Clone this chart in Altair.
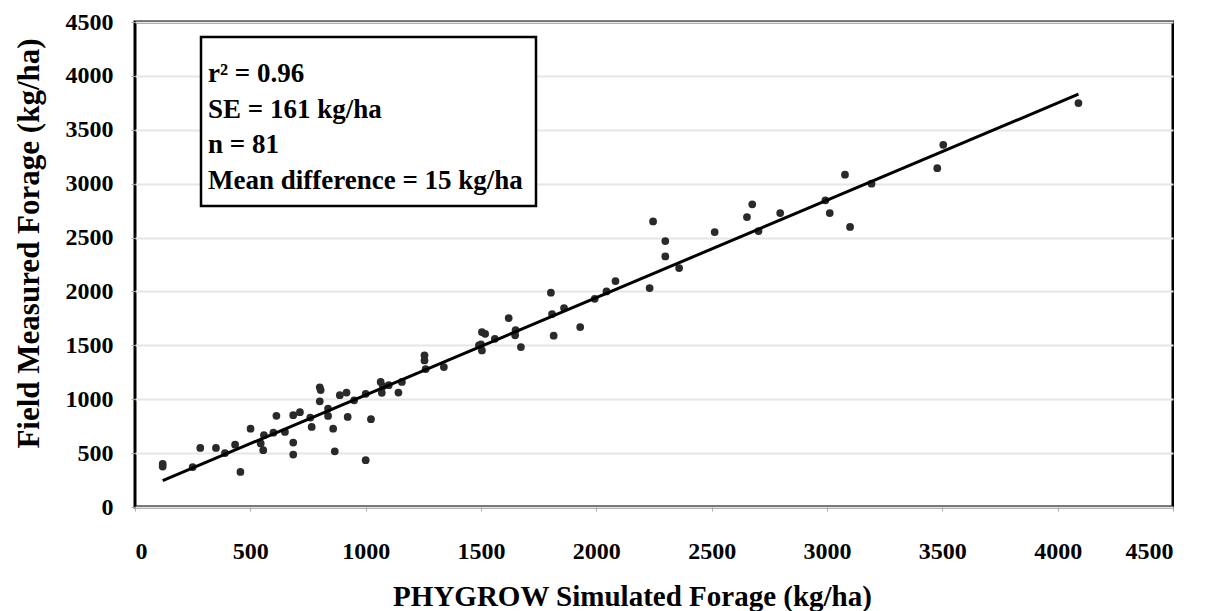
import altair as alt
import pandas as pd

# PHYGROW simulated forage (kg/ha) vs field measured forage (kg/ha)
simulated = [120, 120, 283, 351, 434, 457, 501, 559, 545, 556,
             613, 686, 715, 650, 686, 686, 766, 801, 805, 801,
             837, 837, 859, 866, 888, 917, 922, 1023, 1000, 1065,
             1075, 1070, 1142, 1157, 1255, 1255, 1339, 1504, 1518, 1491,
             1504, 1620, 1648, 1673, 1815, 1930, 1808, 1860, 1803, 1993,
             2044, 2083, 2246, 2299, 2299, 2359, 2231, 2513, 2653, 2676,
             2703, 2797, 2993, 3012, 3078, 3100, 3193, 3478, 3504, 4090,
             250, 390, 600, 760, 950, 1100, 1260, 1500, 1560, 1650, 1000]
measured = [400, 375, 548, 548, 578, 325, 727, 666, 590, 527,
            846, 852, 880, 697, 598, 486, 743, 1110, 1085, 981,
            913, 845, 727, 517, 1038, 1062, 836, 815, 434, 1160,
            1120, 1060, 1062, 1160, 1407, 1360, 1298, 1623, 1607, 1500,
            1453, 1753, 1593, 1484, 1590, 1670, 1790, 1846, 1988, 1932,
            2000, 2096, 2650, 2467, 2325, 2217, 2031, 2551, 2690, 2808,
            2560, 2727, 2845, 2727, 3083, 2598, 3000, 3144, 3361, 3748,
            370, 500, 690, 830, 990, 1130, 1280, 1510, 1560, 1640, 1050]

# fitted line end points
fit_x = [120, 4090]
fit_y = [245, 3830]

ticks = [0, 500, 1000, 1500, 2000, 2500, 3000, 3500, 4000, 4500]

stats_text = "r\u00b2 = 0.96\nSE = 161 kg/ha\nn = 81\nMean difference = 15 kg/ha"

pts = pd.DataFrame({"sim": simulated, "meas": measured})
fit = pd.DataFrame({"sim": fit_x, "meas": fit_y})

FONT = "Liberation Serif"

xs = alt.Scale(domain=[0, 4500], nice=False)
ys = alt.Scale(domain=[0, 4500], nice=False)

xaxis = alt.Axis(values=ticks, format="d", title="PHYGROW Simulated Forage (kg/ha)", grid=False,
                 labelFont=FONT, labelFontSize=24, labelFontWeight="bold", labelColor="black",
                 titleFont=FONT, titleFontSize=29, titleFontWeight="bold", titleColor="black",
                 labelPadding=28, titlePadding=19, tickSize=4, tickColor="#aaa", domain=False,
                 titleX=497)
yaxis = alt.Axis(values=ticks, format="d", title="Field Measured Forage (kg/ha)", grid=True,
                 gridColor="#e6e6e6", gridWidth=2,
                 labelFont=FONT, labelFontSize=24, labelFontWeight="bold", labelColor="black",
                 titleFont=FONT, titleFontSize=31, titleFontWeight="bold", titleColor="black",
                 labelPadding=18, titlePadding=20, tickSize=4, tickColor="#aaa", domain=False,
                 titleY=221)

points = alt.Chart(pts).mark_circle(size=60, color="#2a2a2a", opacity=1).encode(
    x=alt.X("sim:Q", scale=xs, axis=xaxis),
    y=alt.Y("meas:Q", scale=ys, axis=yaxis),
)

line = alt.Chart(fit).mark_line(color="black", strokeWidth=3).encode(
    x=alt.X("sim:Q", scale=xs),
    y=alt.Y("meas:Q", scale=ys),
)

box = alt.Chart(pd.DataFrame({"k": [0]})).mark_rect(
    fill="white", stroke="black", strokeWidth=2.5
).encode(x=alt.value(66), x2=alt.value(401), y=alt.value(15), y2=alt.value(184))

label = alt.Chart(pd.DataFrame({"t": [stats_text]})).mark_text(
    align="left", baseline="alphabetic", font=FONT, fontSize=27, fontWeight="bold",
    color="black", lineBreak="\n", lineHeight=35.5
).encode(x=alt.value(73), y=alt.value(60), text="t:N")

chart = alt.layer(points, line, box, label).properties(
    width=1038, height=485,
    padding={"left": 5, "top": 2, "right": 0, "bottom": 0},
).configure_view(stroke="black", strokeWidth=3)

chart.save("out.html", embed_options={"renderer": "svg", "actions": False})
